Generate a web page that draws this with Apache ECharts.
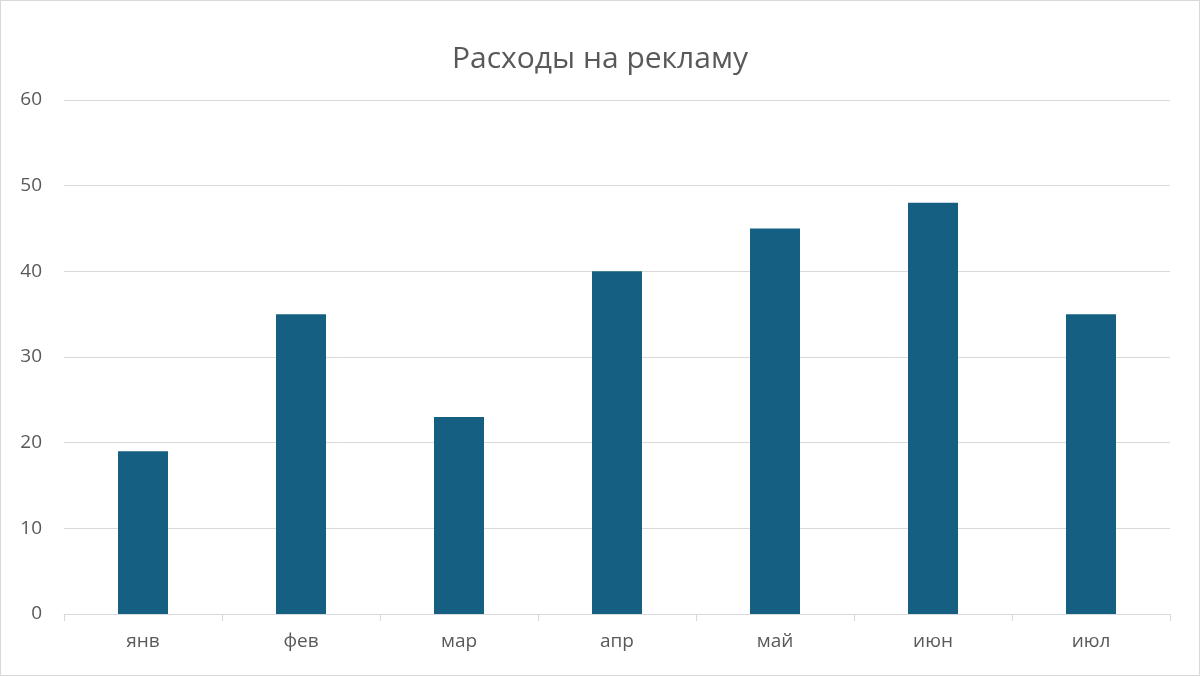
<!DOCTYPE html>
<html><head><meta charset="utf-8">
<script src="https://cdn.jsdelivr.net/npm/echarts@6/dist/echarts.min.js"></script>
<style>html,body{margin:0;padding:0;background:#fff}#c{width:1200px;height:676px;box-sizing:border-box;border:1px solid #d9d9d9}</style>
</head><body><div id="c"></div>
<script>
const categories = ['янв','фев','мар','апр','май','июн','июл'];
const values = [19, 35, 23, 40, 45, 48, 35];
const title = 'Расходы на рекламу';
const chart = echarts.init(document.getElementById('c'));
chart.setOption({
  animation:false,
  title:{text:title,left:'center',top:38,textStyle:{fontFamily:'Open Sans',fontSize:30,fontWeight:'normal',color:'#595959'}},
  grid:{left:63,right:29,top:99,bottom:61},
  xAxis:{type:'category',data:categories,
    axisLine:{lineStyle:{color:'#d9d9d9',width:1}},
    axisTick:{show:true,length:7,lineStyle:{color:'#d9d9d9'}},
    axisLabel:{fontFamily:'Open Sans',fontSize:19,color:'#595959',margin:18}},
  yAxis:{type:'value',min:0,max:60,interval:10,
    splitLine:{lineStyle:{color:'#d9d9d9',width:1}},
    axisLabel:{fontFamily:'Open Sans',fontSize:19,color:'#595959',margin:22}},
  series:[{type:'bar',data:values,barWidth:50,itemStyle:{color:'#156082'}}]
});
</script></body></html>
